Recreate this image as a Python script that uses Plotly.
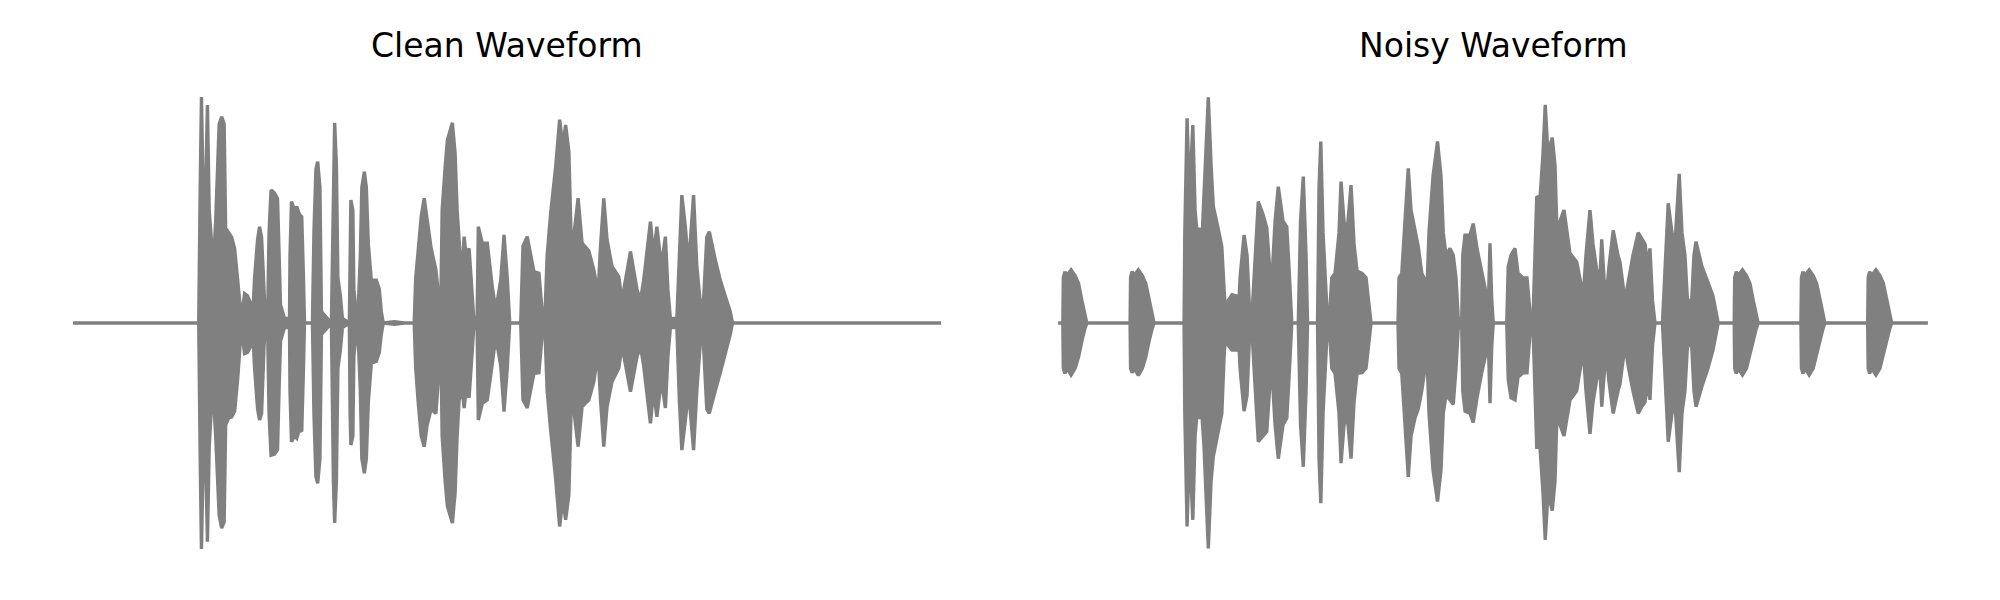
import plotly.graph_objects as go

# ---- Clean waveform envelope (time in s, upper / lower amplitude) ----
clean_t = [0.000, 0.504, 0.510, 0.515, 0.522, 0.532, 0.539, 0.546, 0.556, 0.561,
           0.572, 0.586, 0.596, 0.606, 0.612, 0.624, 0.636, 0.648, 0.660, 0.675,
           0.682, 0.688, 0.700, 0.714, 0.720, 0.728, 0.740, 0.748, 0.756, 0.766,
           0.772, 0.780, 0.786, 0.794, 0.808, 0.820, 0.826, 0.832, 0.848, 0.868,
           0.870, 0.876, 0.888, 0.897, 0.908, 0.917, 0.924, 0.928, 0.960, 0.966,
           0.974, 0.981, 0.990, 0.996, 1.036, 1.044, 1.049, 1.056, 1.062, 1.072,
           1.080, 1.108, 1.111, 1.114, 1.122, 1.126, 1.132, 1.144, 1.152, 1.158,
           1.168, 1.176, 1.184, 1.196, 1.216, 1.228, 1.236, 1.244, 1.288, 1.328,
           1.368, 1.374, 1.384, 1.396, 1.408, 1.420, 1.436, 1.455, 1.468, 1.475,
           1.480, 1.492, 1.501, 1.521, 1.532, 1.540, 1.548, 1.552, 1.564, 1.568,
           1.576, 1.588, 1.596, 1.606, 1.620, 1.625, 1.641, 1.661, 1.681, 1.695,
           1.715, 1.728, 1.741, 1.751, 1.795, 1.804, 1.821, 1.848, 1.868, 1.881,
           1.892, 1.901, 1.915, 1.935, 1.951, 1.964, 1.975, 1.988, 1.999, 2.025,
           2.041, 2.068, 2.088, 2.105, 2.115, 2.128, 2.141, 2.161, 2.188, 2.201,
           2.215, 2.235, 2.261, 2.275, 2.288, 2.315, 2.328, 2.341, 2.359, 2.375,
           2.385, 2.395, 2.421, 2.431, 2.441, 2.455, 2.468, 2.488, 2.501, 2.515,
           2.528, 2.541, 2.551, 2.575, 2.595, 2.615, 2.635, 2.644, 3.480]
clean_hi = [0, 0, 0.60, 1.00, 0.55, 0.60, 0.965, 0.50, 0.35, 0.22,
            0.45, 0.88, 0.913, 0.88, 0.42, 0.40, 0.38, 0.33, 0.20, 0.02,
            0.08, 0.13, 0.12, 0.08, 0.02, 0.20, 0.37, 0.426, 0.38, 0.10,
            0, 0, 0.40, 0.588, 0.575, 0.55, 0.30, 0.08, 0.02, 0.02,
            0.30, 0.537, 0.50, 0.515, 0.48, 0.47, 0.20, 0, 0, 0.40,
            0.68, 0.714, 0.60, 0.05, 0, 0.70, 0.886, 0.70, 0.20, 0.12,
            0.02, 0, 0.40, 0.544, 0.50, 0.15, 0.08, 0.08, 0.30, 0.60,
            0.669, 0.60, 0.35, 0.19, 0.19, 0.15, 0.05, 0, 0.006, 0,
            0, 0.20, 0.32, 0.47, 0.552, 0.45, 0.33, 0.235, 0.10, 0.10,
            0.50, 0.69, 0.81, 0.886, 0.75, 0.50, 0.34, 0.30, 0.30, 0.382,
            0.30, 0.33, 0.20, 0.03, 0, 0.426, 0.353, 0.353, 0.16, 0.058,
            0.19, 0.39, 0.20, 0, 0, 0.34, 0.382, 0.227, 0.22, 0.05,
            0.03, 0.30, 0.485, 0.69, 0.90, 0.78, 0.876, 0.76, 0.30, 0.552,
            0.353, 0.32, 0.235, 0.13, 0.34, 0.552, 0.37, 0.25, 0.205, 0.10,
            0.19, 0.316, 0.15, 0.10, 0.19, 0.448, 0.30, 0.426, 0.25, 0.382,
            0.15, 0.02, 0.02, 0.34, 0.566, 0.426, 0.25, 0.566, 0.25, 0.09,
            0.10, 0.38, 0.404, 0.28, 0.19, 0.12, 0.05, 0, 0]
clean_lo = [0, 0, -0.60, -1.00, -0.60, -0.60, -0.968, -0.55, -0.35, -0.28,
            -0.50, -0.85, -0.908, -0.88, -0.45, -0.42, -0.415, -0.39, -0.25, -0.02,
            -0.08, -0.135, -0.13, -0.10, -0.02, -0.20, -0.38, -0.429, -0.40, -0.10,
            0, 0, -0.40, -0.585, -0.58, -0.56, -0.30, -0.08, -0.02, -0.02,
            -0.30, -0.525, -0.50, -0.51, -0.47, -0.48, -0.20, 0, 0, -0.40,
            -0.68, -0.709, -0.60, -0.05, 0, -0.70, -0.885, -0.70, -0.20, -0.12,
            -0.02, 0, -0.40, -0.54, -0.50, -0.15, -0.08, -0.08, -0.30, -0.60,
            -0.665, -0.60, -0.35, -0.178, -0.17, -0.13, -0.05, 0, -0.006, 0,
            0, -0.20, -0.35, -0.50, -0.547, -0.45, -0.38, -0.40, -0.20, -0.10,
            -0.50, -0.70, -0.81, -0.885, -0.75, -0.50, -0.34, -0.33, -0.33, -0.376,
            -0.30, -0.33, -0.20, -0.03, 0, -0.429, -0.355, -0.34, -0.18, -0.06,
            -0.19, -0.392, -0.20, 0, 0, -0.34, -0.376, -0.223, -0.22, -0.05,
            -0.03, -0.30, -0.473, -0.69, -0.90, -0.78, -0.87, -0.76, -0.30, -0.547,
            -0.37, -0.34, -0.26, -0.13, -0.34, -0.547, -0.37, -0.26, -0.20, -0.10,
            -0.19, -0.304, -0.15, -0.10, -0.19, -0.444, -0.30, -0.415, -0.25, -0.376,
            -0.15, -0.02, -0.02, -0.34, -0.562, -0.43, -0.30, -0.562, -0.30, -0.09,
            -0.10, -0.38, -0.40, -0.30, -0.22, -0.14, -0.05, 0, 0]

# ---- Noisy waveform envelope ----
noisy_t = [0.000, 0.019, 0.021, 0.027, 0.035, 0.052, 0.068, 0.082, 0.095, 0.106, 0.115,
           0.288, 0.290, 0.296, 0.304, 0.321, 0.337, 0.351, 0.364, 0.375, 0.384, 0.504,
           0.507, 0.516, 0.526, 0.539, 0.548, 0.556, 0.565, 0.575, 0.584, 0.601,
           0.612, 0.621, 0.640, 0.655, 0.664, 0.672, 0.681, 0.696, 0.712, 0.721,
           0.728, 0.744, 0.756, 0.765, 0.775, 0.784, 0.801, 0.820, 0.835, 0.848,
           0.856, 0.868, 0.881, 0.900, 0.915, 0.926, 0.935, 0.961, 0.970, 0.981,
           0.992, 0.998, 1.038, 1.044, 1.051, 1.060, 1.075, 1.084, 1.095, 1.108,
           1.124, 1.132, 1.144, 1.156, 1.172, 1.184, 1.196, 1.216, 1.232, 1.244,
           1.252, 1.360, 1.364, 1.375, 1.388, 1.401, 1.412, 1.428, 1.441, 1.455,
           1.468, 1.475, 1.484, 1.500, 1.518, 1.532, 1.541, 1.552, 1.568, 1.581,
           1.592, 1.601, 1.615, 1.619, 1.628, 1.648, 1.661, 1.676, 1.695, 1.715,
           1.721, 1.728, 1.735, 1.741, 1.795, 1.801, 1.812, 1.828, 1.840, 1.860,
           1.876, 1.888, 1.901, 1.915, 1.928, 1.940, 1.949, 1.960, 1.977, 1.988,
           1.996, 2.008, 2.024, 2.048, 2.075, 2.101, 2.112, 2.128, 2.140, 2.155,
           2.168, 2.175, 2.184, 2.192, 2.204, 2.221, 2.240, 2.248, 2.268, 2.281,
           2.300, 2.321, 2.335, 2.348, 2.360, 2.368, 2.378, 2.388, 2.418, 2.428,
           2.441, 2.456, 2.468, 2.485, 2.496, 2.508, 2.518, 2.535, 2.544, 2.552,
           2.576, 2.600, 2.620, 2.641,
           2.705, 2.707, 2.713, 2.721, 2.738, 2.754, 2.768, 2.781, 2.792, 2.801,
           2.972, 2.974, 2.980, 2.988, 3.005, 3.021, 3.035, 3.048, 3.059, 3.068,
           3.239, 3.241, 3.247, 3.255, 3.272, 3.288, 3.302, 3.315, 3.326, 3.335,
           3.480]
noisy_hi = [0, 0, 0.20, 0.227, 0.21, 0.235, 0.21, 0.175, 0.10, 0.043, 0,
            0, 0.20, 0.228, 0.21, 0.235, 0.21, 0.175, 0.10, 0.043, 0, 0,
            0.40, 0.906, 0.55, 0.876, 0.50, 0.40, 0.42, 0.35, 0.55, 0.999,
            0.70, 0.515, 0.42, 0.338, 0.15, 0.02, 0.10, 0.125, 0.12, 0.03,
            0.20, 0.389, 0.30, 0.08, 0.02, 0.20, 0.537, 0.48, 0.42, 0.22,
            0.20, 0.45, 0.603, 0.45, 0.426, 0.20, 0, 0, 0.45, 0.648,
            0.30, 0, 0, 0.60, 0.803, 0.40, 0.07, 0, 0.20, 0.22,
            0.40, 0.626, 0.45, 0.40, 0.61, 0.35, 0.23, 0.22, 0.20, 0.08,
            0, 0, 0.20, 0.22, 0.45, 0.684, 0.50, 0.40, 0.338, 0.22,
            0.19, 0.12, 0.40, 0.65, 0.803, 0.65, 0.40, 0.30, 0.33, 0.30,
            0.20, 0.02, 0.02, 0.30, 0.389, 0.389, 0.44, 0.33, 0.22, 0.12,
            0.06, 0.353, 0.10, 0, 0, 0.25, 0.30, 0.33, 0.22, 0.20,
            0.20, 0.05, 0.05, 0.56, 0.55, 0.75, 0.965, 0.75, 0.82, 0.70,
            0.40, 0.45, 0.50, 0.308, 0.27, 0.12, 0.30, 0.50, 0.35, 0.235,
            0.20, 0.37, 0.20, 0.10, 0.25, 0.41, 0.30, 0.27, 0.10, 0.19,
            0.30, 0.40, 0.37, 0.35, 0.25, 0.33, 0.10, 0, 0, 0.22,
            0.53, 0.40, 0.35, 0.66, 0.40, 0.30, 0.10, 0.10, 0.30, 0.36,
            0.25, 0.18, 0.12, 0,
            0, 0.20, 0.227, 0.21, 0.235, 0.21, 0.175, 0.10, 0.043, 0,
            0, 0.20, 0.227, 0.21, 0.235, 0.21, 0.175, 0.10, 0.043, 0,
            0, 0.20, 0.227, 0.21, 0.235, 0.21, 0.175, 0.10, 0.043, 0,
            0]
noisy_lo = [0, 0, -0.20, -0.223, -0.20, -0.23, -0.20, -0.15, -0.08, -0.03, 0,
            0, -0.20, -0.22, -0.20, -0.232, -0.20, -0.15, -0.08, -0.03, 0, 0,
            -0.40, -0.90, -0.55, -0.871, -0.50, -0.40, -0.415, -0.40, -0.55, -0.997,
            -0.70, -0.59, -0.48, -0.40, -0.15, -0.02, -0.10, -0.12, -0.12, -0.03,
            -0.20, -0.39, -0.32, -0.08, -0.02, -0.20, -0.525, -0.50, -0.48, -0.26,
            -0.22, -0.45, -0.60, -0.45, -0.42, -0.20, 0, 0, -0.45, -0.636,
            -0.30, 0, 0, -0.60, -0.797, -0.40, -0.07, 0, -0.20, -0.223,
            -0.40, -0.62, -0.45, -0.40, -0.60, -0.35, -0.223, -0.22, -0.20, -0.08,
            0, 0, -0.20, -0.223, -0.45, -0.681, -0.50, -0.42, -0.38, -0.30,
            -0.20, -0.12, -0.40, -0.65, -0.79, -0.65, -0.40, -0.32, -0.34, -0.36,
            -0.20, -0.02, -0.02, -0.30, -0.39, -0.40, -0.44, -0.33, -0.22, -0.12,
            -0.06, -0.355, -0.10, 0, 0, -0.25, -0.33, -0.34, -0.24, -0.22,
            -0.22, -0.05, -0.05, -0.55, -0.55, -0.75, -0.96, -0.75, -0.83, -0.70,
            -0.40, -0.45, -0.50, -0.34, -0.30, -0.12, -0.30, -0.49, -0.35, -0.25,
            -0.20, -0.37, -0.22, -0.12, -0.26, -0.40, -0.30, -0.27, -0.10, -0.19,
            -0.30, -0.40, -0.37, -0.35, -0.26, -0.34, -0.10, 0, 0, -0.22,
            -0.525, -0.40, -0.35, -0.66, -0.40, -0.30, -0.10, -0.10, -0.30, -0.37,
            -0.28, -0.20, -0.12, 0,
            0, -0.20, -0.223, -0.20, -0.23, -0.20, -0.15, -0.08, -0.03, 0,
            0, -0.20, -0.223, -0.20, -0.23, -0.20, -0.15, -0.08, -0.03, 0,
            0, -0.20, -0.223, -0.20, -0.23, -0.20, -0.15, -0.08, -0.03, 0,
            0]

panel_titles = ["Clean Waveform", "Noisy Waveform"]

assert len(clean_t) == len(clean_hi) == len(clean_lo), (len(clean_t), len(clean_hi), len(clean_lo))
assert len(noisy_t) == len(noisy_hi) == len(noisy_lo), (len(noisy_t), len(noisy_hi), len(noisy_lo))

GRAY = "#808080"
fig = go.Figure()


def add_wave(t, hi, lo, xa, ya):
    xs = list(t) + list(t)[::-1]
    ys = list(hi) + list(lo)[::-1]
    fig.add_trace(go.Scatter(x=xs, y=ys, mode="lines", fill="toself",
                             fillcolor=GRAY, line=dict(color=GRAY, width=3.4),
                             xaxis=xa, yaxis=ya, showlegend=False, hoverinfo="skip"))


add_wave(clean_t, clean_hi, clean_lo, "x", "y")
add_wave(noisy_t, noisy_hi, noisy_lo, "x2", "y2")

xr = [-0.174, 3.654]
yr = [-1.1, 1.1]
ax_common = dict(visible=False, showgrid=False, zeroline=False, fixedrange=True)

# the page adds an 8px body margin; domains compensate for it
fig.update_layout(
    width=2000, height=600,
    margin=dict(l=0, r=0, t=0, b=0),
    paper_bgcolor="white", plot_bgcolor="white",
    xaxis=dict(domain=[0.0108, 0.4882], range=xr, **ax_common),
    yaxis=dict(domain=[0.0606, 0.8893], range=yr, **ax_common),
    xaxis2=dict(domain=[0.5033, 0.9817], range=xr, anchor="y2", **ax_common),
    yaxis2=dict(domain=[0.0606, 0.8893], range=yr, anchor="x2", **ax_common),
    font=dict(family="DejaVu Sans"),
)

for cx, title in zip([0.2495, 0.7425], panel_titles):
    fig.add_annotation(x=cx, y=0.901, xref="paper", yref="paper", text=title,
                       showarrow=False, xanchor="center", yanchor="bottom",
                       font=dict(family="DejaVu Sans", size=33, color="black"))

fig.write_html("out.html")
